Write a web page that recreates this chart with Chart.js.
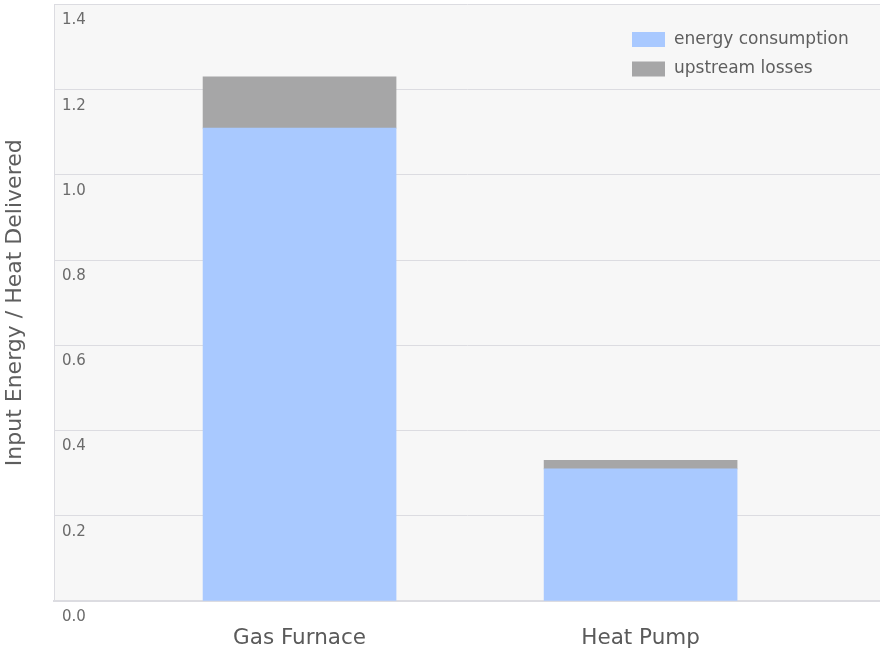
<!DOCTYPE html>
<html>
<head>
<meta charset="utf-8">
<script src="https://cdn.jsdelivr.net/npm/chart.js@4.4.1/dist/chart.umd.min.js"></script>
<style>
  body { margin: 0; background: #fff; }
</style>
</head>
<body>
<canvas id="canvas" width="880" height="652"></canvas>
<script>
// chart values
const categories = ['Gas Furnace', 'Heat Pump']
const energyConsumption = [1.11, 0.31]
const upstreamLosses = [0.12, 0.02]
const yTicks = [0, 0.2, 0.4, 0.6, 0.8, 1.0, 1.2, 1.4]

const FONT = "'DejaVu Sans', sans-serif"

// grey plot background
const plotBg = {
  id: 'plotBg',
  beforeDraw(chart) {
    const a = chart.chartArea
    const ctx = chart.ctx
    ctx.save()
    ctx.fillStyle = '#f7f7f7'
    ctx.fillRect(a.left, a.top, a.right - a.left, a.bottom - a.top)
    ctx.restore()
  }
}

// legend sitting inside the top right of the plot
const innerLegend = {
  id: 'innerLegend',
  afterDraw(chart) {
    const ctx = chart.ctx
    const a = chart.chartArea
    const x = a.right - 248
    let y = a.top + 35
    ctx.save()
    ctx.font = '17px ' + FONT
    ctx.textBaseline = 'middle'
    chart.data.datasets.forEach(function(ds) {
      ctx.fillStyle = ds.backgroundColor
      ctx.fillRect(x, y - 7.5, 33, 15)
      ctx.fillStyle = '#5e5e5e'
      ctx.fillText(ds.label, x + 42, y)
      y += 29.5
    })
    ctx.restore()
  }
}

function noPad(axis) {
  axis.paddingTop = 0
  axis.paddingBottom = 0
  axis.paddingLeft = 0
  axis.paddingRight = 0
}

var ctx = document.getElementById('canvas').getContext('2d')
var chart = new Chart(ctx, {
  type: 'bar',
  data: {
    datasets: [{
      label: 'energy consumption',
      backgroundColor: '#a9c9ff',
      data: energyConsumption.map(function(v, i) { return {x: i, y: v} })
    }, {
      label: 'upstream losses',
      backgroundColor: '#a6a6a7',
      data: upstreamLosses.map(function(v, i) { return {x: i, y: v} })
    }]
  },
  options: {
    responsive: false,
    animation: false,
    barThickness: 193,
    layout: { padding: { top: 4.5, right: 0, bottom: 1, left: 0 } },
    plugins: {
      legend: { display: false },
      tooltip: { enabled: false }
    },
    scales: {
      x: {
        type: 'linear',
        stacked: true,
        offset: false,
        min: -0.72,
        max: 1.702,
        grid: { display: false, drawTicks: false, offset: false },
        border: { display: true, color: '#dcdce1', width: 2 },
        afterBuildTicks: function(axis) {
          axis.ticks = categories.map(function(c, i) { return {value: i} })
        },
        afterFit: function(axis) {
          noPad(axis)
          axis.height = 50
        },
        ticks: {
          padding: 25,
          color: '#5a5a5a',
          font: { family: FONT, size: 21.5 },
          maxRotation: 0,
          autoSkip: false,
          callback: function(v) { return categories[v] }
        }
      },
      y: {
        stacked: true,
        min: 0,
        max: 1.4,
        grid: { color: '#dcdce1', lineWidth: 1, drawTicks: false },
        border: { display: true, color: '#dcdce1', width: 1 },
        afterBuildTicks: function(axis) {
          axis.ticks = yTicks.map(function(v) { return {value: v} })
        },
        afterFit: function(axis) {
          noPad(axis)
          axis.width = 54
        },
        ticks: {
          mirror: true,
          padding: 8,
          labelOffset: 16,
          color: '#6b6b6b',
          font: { family: FONT, size: 15 },
          callback: function(v) { return v.toFixed(1) }
        },
        title: {
          display: true,
          text: 'Input Energy / Heat Delivered',
          color: '#5e5e5e',
          font: { family: FONT, size: 22 },
          padding: { top: 2, bottom: 25.6 }
        }
      }
    }
  },
  plugins: [plotBg, innerLegend]
})
</script>
</body>
</html>
